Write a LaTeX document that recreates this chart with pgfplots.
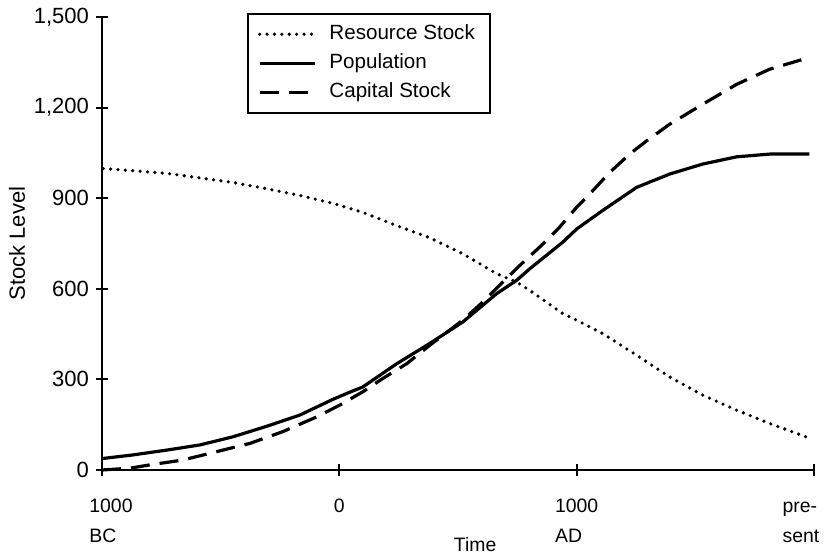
\documentclass[border=0pt]{standalone}
\usepackage{pgfplots}
\pgfplotsset{compat=1.18}
\usepackage{fontspec}
\setmainfont{Liberation Sans}
\newcommand{\chartfont}{\fontsize{10.3}{15}\selectfont}
\newcommand{\yfont}{\fontsize{11}{15}\selectfont}
\newcommand{\xfont}{\fontsize{9.7}{15}\selectfont}

\pgfplotstableread{
x y
-995 998
-869 991
-726 982
-587 967
-448 952
-305 931
-166 909
-27 883
36 868
99 853
242 809
381 769
520 716
663 650
747 622
802 595
941 518
1000 496
1109 452
1253 380
1392 308
1531 248
1674 198
1813 154
1973 108
}\resource

\pgfplotstableread{
x y
-998 38
-869 50
-726 66
-587 83
-448 110
-305 145
-166 182
-27 234
36 255
99 275
242 352
381 419
520 490
663 584
747 628
802 666
941 754
1000 798
1109 859
1253 936
1392 980
1531 1013
1674 1037
1813 1046
1981 1046
}\population

\pgfplotstableread{
x y
-1000 0
-882 6
-798 17
-659 33
-516 61
-377 88
-238 127
-95 176
2 215
99 259
183 303
284 352
381 413
520 496
604 556
688 622
760 677
844 738
928 804
1000 870
1055 914
1139 985
1223 1046
1295 1090
1392 1145
1531 1211
1674 1277
1813 1327
1950 1359
}\capital

\begin{document}
\begin{tikzpicture}
\path[use as bounding box] (-51pt,-45pt) rectangle (366pt,235pt);
\begin{axis}[
  scale only axis,
  width=356pt, height=226.5pt,
  anchor=south west, at={(0,0)},
  xmin=-1000, xmax=2000,
  ymin=0, ymax=1500,
  clip=false,
  axis x line=bottom, axis y line=left,
  axis line style={-, line width=1pt},
  tick style={line width=1pt, black},
  tick align=center,
  major tick length=6pt,
  xtick={-1000,0,1000,2000},
  xticklabels={
    {\hspace*{9pt}\begin{tabular}[t]{@{}l@{}}1000\\BC\end{tabular}},
    {\begin{tabular}[t]{@{}l@{}}0\end{tabular}},
    {\begin{tabular}[t]{@{}l@{}}1000\\AD\end{tabular}},
    {\begin{tabular}[t]{@{}l@{}}pre-\\sent\end{tabular}\hspace*{13pt}}},
  ytick={0,300,600,900,1200,1500},
  minor tick num=0,
  yticklabel style={font=\yfont, /pgf/number format/1000 sep={,}},
  xticklabel style={font=\xfont, yshift=-4pt},
  /pgf/number format/assume math mode=true,
  xlabel={Time},
  ylabel={Stock Level},
  xlabel style={font=\xfont, at={(axis description cs:0.524,0)}, anchor=north, yshift=-30pt},
  ylabel style={font=\yfont, at={(axis description cs:0,0.5)}, anchor=center, yshift=42.5pt},
  legend style={at={(rel axis cs:0.2037,1.009)}, anchor=north west,
    draw=black, line width=0.8pt, font=\chartfont,
    inner xsep=5pt, inner ysep=3pt,
    nodes={text height=7.5pt, text depth=2pt, inner sep=2.5pt},
    /tikz/every odd column/.append style={column sep=4pt}},
  legend cell align=left,
  legend image code/.code={\draw[#1] (0pt,0pt) -- (27.5pt,0pt);},
]
\addplot[black, line width=1.8pt, line cap=round, dash pattern=on 0pt off 3.7pt] table {\resource};
\addlegendentry{Resource Stock}
\addplot[black, line width=1.6pt, line join=round] table {\population};
\addlegendentry{Population}
\addplot[black, line width=1.6pt, dash pattern=on 9.5pt off 5pt] table {\capital};
\addlegendentry{Capital Stock}
\end{axis}
\end{tikzpicture}
\end{document}
